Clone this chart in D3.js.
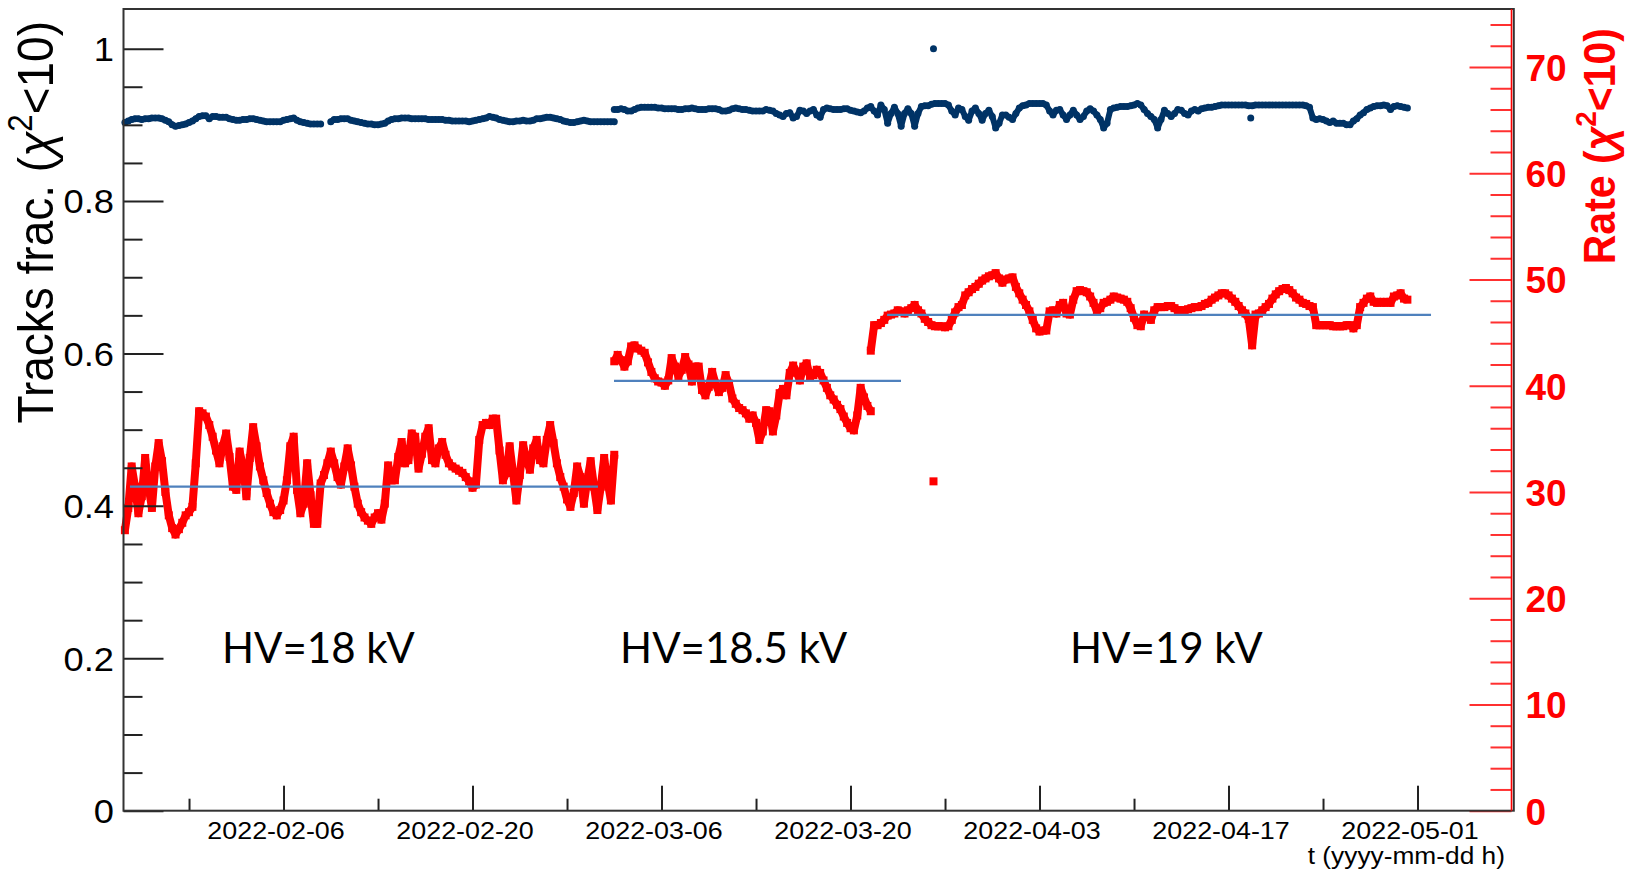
<!DOCTYPE html>
<html>
<head>
<meta charset="utf-8">
<script src="https://cdn.jsdelivr.net/npm/d3@7"></script>
<style>
  body { margin: 0; background: #fff; }
  svg { display: block; }
  text { font-family: "Liberation Sans", Arial, Helvetica, sans-serif; }
</style>
</head>
<body>
<svg id="chart" width="1632" height="872"></svg>
<script>
// time axis range and ticks
const xStart = "2022-01-25T03:30:00Z";
const xEnd = "2022-05-08T01:45:00Z";
const majorDates = ["2022-02-06", "2022-02-20", "2022-03-06", "2022-03-20", "2022-04-03", "2022-04-17", "2022-05-01"];
const minorDates = ["2022-01-30", "2022-02-13", "2022-02-27", "2022-03-13", "2022-03-27", "2022-04-10", "2022-04-24"];
const fracTicks = [0, 0.2, 0.4, 0.6, 0.8, 1];
const rateTicks = [0, 10, 20, 30, 40, 50, 60, 70];

// one value every 6 hours from the start of each HV period
const stepHours = 6;
const periodStart = ["2022-01-25T06:00:00Z", "2022-03-02T12:00:00Z", "2022-03-21T12:00:00Z"];
const hvNames = ["HV=18 kV", "HV=18.5 kV", "HV=19 kV"];

// rate (chi2<10), red, right axis
const rateHV18 = [
  26.4, 28.5, 32.4, 30.5, 28.0, 29.6, 33.2, 30.5, 28.5, 32.4,
  34.6, 32.9, 30.0, 27.8, 26.6, 26.0, 26.5, 27.1, 27.8, 28.1,
  28.6, 32.7, 37.6, 37.4, 37.1, 36.3, 35.2, 33.9, 32.7, 34.3,
  35.5, 33.3, 30.5, 30.2, 33.8, 32.4, 29.6, 33.2, 36.1, 34.3,
  32.4, 31.1, 29.9, 28.9, 28.1, 27.8, 28.3, 29.2, 31.1, 34.3,
  35.2, 30.2, 28.0, 28.9, 32.7, 29.7, 27.0, 27.0, 30.8, 31.6,
  32.7, 33.8, 32.7, 31.4, 30.7, 32.4, 34.1, 32.5, 30.5, 28.9,
  28.1, 27.6, 27.3, 27.0, 27.6, 28.0, 27.4, 28.9, 32.5, 31.1,
  31.1, 33.3, 34.7, 32.7, 33.0, 35.5, 35.2, 32.2, 33.6, 35.2,
  36.0, 33.0, 32.7, 34.1, 34.7, 33.5, 32.7, 32.4, 32.2, 32.0,
  31.8, 31.4, 31.0, 30.4, 30.7, 34.9, 36.3, 36.5, 36.3, 36.9,
  36.9, 33.9, 31.1, 31.8, 34.3, 31.8, 29.2, 31.6, 34.4, 33.0,
  32.1, 34.1, 34.9, 33.0, 32.7, 34.9, 36.3, 34.6, 32.7, 31.4,
  30.5, 29.3, 28.6, 29.9, 32.4, 31.4, 28.9, 31.1, 32.9, 30.5,
  28.3, 30.5, 33.2, 31.0, 29.2, 33.5
];
const rateHV185 = [
  42.3, 42.9, 42.4, 41.8, 42.3, 43.7, 43.8, 43.5, 43.3, 43.1,
  42.2, 41.3, 40.7, 40.4, 40.3, 40.0, 40.5, 42.6, 41.8, 40.9,
  41.5, 42.7, 42.0, 40.4, 41.8, 41.8, 39.6, 39.1, 39.9, 41.3,
  40.2, 39.4, 39.8, 41.0, 40.2, 38.8, 38.3, 37.9, 37.7, 37.4,
  36.9, 37.2, 36.5, 34.9, 35.7, 37.7, 37.6, 35.7, 37.2, 39.3,
  39.7, 39.1, 41.2, 41.9, 41.3, 40.5, 41.8, 42.1, 40.9, 41.0,
  41.5, 41.2, 40.5, 39.8, 39.1, 38.7, 38.2, 37.8, 37.1, 36.5,
  36.0, 35.8, 37.2, 39.8, 38.9, 38.1, 37.6
];
const rateHV19 = [
  43.3, 45.7, 45.7, 45.9, 46.2, 46.6, 46.7, 46.8, 47.1, 47.0,
  46.8, 47.1, 47.3, 47.6, 47.1, 46.8, 46.3, 46.0, 45.7, 45.6,
  45.6, 45.6, 45.5, 45.6, 46.2, 46.9, 47.4, 47.6, 48.5, 48.8,
  49.1, 49.3, 49.6, 49.9, 50.1, 50.3, 50.4, 50.6, 50.1, 49.7,
  50.0, 50.1, 50.2, 49.3, 48.7, 48.1, 47.6, 47.0, 46.2, 45.4,
  45.1, 45.2, 45.2, 47.0, 47.1, 46.8, 47.6, 47.8, 46.8, 46.7,
  48.1, 48.9, 49.0, 48.9, 48.8, 48.4, 47.8, 47.0, 47.3, 47.8,
  47.9, 48.1, 48.4, 48.3, 48.2, 48.1, 47.9, 47.3, 46.4, 45.7,
  45.6, 46.7, 46.5, 46.2, 47.1, 47.4, 47.4, 47.4, 47.5, 47.5,
  47.3, 47.1, 47.1, 47.1, 47.2, 47.3, 47.4, 47.4, 47.5, 47.7,
  47.8, 48.1, 48.3, 48.5, 48.7, 48.7, 48.5, 48.2, 47.9, 47.5,
  47.1, 46.8, 46.3, 43.8, 46.7, 46.8, 47.1, 47.4, 47.7, 48.2,
  48.6, 48.9, 49.1, 49.2, 49.0, 48.7, 48.3, 48.1, 47.8, 47.7,
  47.5, 47.4, 45.7, 45.7, 45.7, 45.7, 45.7, 45.6, 45.6, 45.6,
  45.6, 45.7, 45.7, 45.4, 45.7, 47.4, 47.8, 48.2, 48.4, 47.9,
  47.8, 47.9, 47.8, 47.9, 47.8, 48.4, 48.5, 48.7, 48.2, 48.1
];

// tracks fraction (chi2<10), dark blue, left axis (null = no data)
const fracHV18 = [
  .903, .905, .907, .908, .908, .907, .908, .908, .909, .909,
  .909, .908, .906, .904, .900, .898, .899, .900, .901, .903,
  .905, .908, .911, .912, .912, .908, .911, .911, .910, .910,
  .910, .908, .907, .906, .906, .907, .907, .908, .908, .907,
  .906, .905, .904, .904, .904, .904, .904, .906, .907, .908,
  .909, .906, .904, .903, .902, .901, .901, .901, .901, null,
  null, .904, .907, .907, .908, .908, .908, .906, .905, .904,
  .903, .902, .901, .901, .900, .900, .901, .902, .905, .907,
  .908, .908, .909, .909, .909, .908, .908, .908, .908, .908,
  .907, .907, .907, .907, .907, .906, .906, .905, .905, .905,
  .905, .905, .904, .905, .906, .907, .908, .909, .911, .910,
  .909, .907, .906, .905, .904, .904, .905, .905, .906, .905,
  .905, .906, .908, .908, .909, .910, .910, .909, .908, .907,
  .905, .904, .903, .903, .904, .905, .906, .905, .904, .904,
  .904, .904, .904, .904, .904, .904
];
const fracHV185 = [
  .920, .920, .921, .920, .918, .918, .920, .922, .923, .923,
  .923, .923, .923, .922, .922, .921, .921, .921, .921, .920,
  .920, .921, .921, .922, .921, .920, .920, .920, .921, .921,
  .921, .920, .918, .918, .919, .921, .922, .921, .920, .920,
  .919, .918, .918, .918, .918, .920, .919, .918, .915, .913,
  .911, .915, .916, .909, .911, .919, .918, .915, .918, .920,
  .913, .910, .920, .922, .921, .920, .920, .920, .921, .921,
  .919, .918, .917, .916, .918, .922, .924
];
const fracHV19 = [
  .923, .918, .913, .926, .920, .902, .915, .923, .915, .898,
  .915, .921, .915, .898, .915, .924, .925, .925, .927, .928,
  .928, .928, .928, .926, .918, .913, .922, .920, .911, .906,
  .918, .922, .915, .906, .915, .919, .911, .896, .902, .913,
  .913, .910, .907, .915, .922, .925, .926, .928, .928, .928,
  .928, .928, .926, .918, .913, .919, .920, .913, .907, .913,
  .919, .913, .907, .911, .918, .921, .918, .913, .907, .896,
  .902, .920, .922, .923, .924, .924, .924, .925, .926, .928,
  .926, .920, .915, .911, .907, .896, .907, .919, .915, .911,
  .915, .920, .919, .915, .913, .918, .920, .918, .921, .922,
  .923, .923, .924, .925, .926, .926, .926, .926, .926, .926,
  .926, .926, .925, .925, .926, .926, .926, .926, .926, .926,
  .926, .926, .926, .926, .926, .926, .926, .926, .926, .925,
  .923, .909, .907, .908, .907, .905, .903, .905, .902, .902,
  .902, .900, .900, .905, .908, .913, .916, .920, .922, .924,
  .925, .925, .926, .925, .920, .924, .925, .924, .923, .922
];

// isolated points
const oddTimes = ["2022-03-26T03:30:00Z", "2022-04-18T15:30:00Z"];
const oddFrac = [1.0, 0.909];
const oddRate = [31.0, null];

// mean rate per HV period (blue fit lines)
const meanFrom = ["2022-01-25T15:00:00Z", "2022-03-02T11:30:00Z", "2022-03-22T17:00:00Z"];
const meanTo = ["2022-03-01T07:00:00Z", "2022-03-23T17:45:00Z", "2022-05-02T00:00:00Z"];
const meanRate = [30.5, 40.45, 46.67];

// where the HV text sits (time, rate)
const hvLabelTime = ["2022-02-01T10:30:00Z", "2022-03-02T22:20:00Z", "2022-04-05T06:15:00Z"];
const hvLabelRate = 13.9;

const frame = { left: 123.5, right: 1513, top: 9, bottom: 810.7 };
const svg = d3.select("#chart");

const x = d3.scaleUtc()
  .domain([new Date(xStart), new Date(xEnd)])
  .range([frame.left, frame.right]);
const yL = d3.scaleLinear().domain([0, 1.052]).range([frame.bottom, frame.top]);
const yR = d3.scaleLinear().domain([0, 75.46]).range([frame.bottom, frame.top]);

function toPoints(start, values) {
  const t0 = +new Date(start);
  return values.map((v, i) => ({ t: new Date(t0 + i * stepHours * 3600e3), v: v }));
}

const fracRuns = [toPoints(periodStart[0], fracHV18), toPoints(periodStart[1], fracHV185), toPoints(periodStart[2], fracHV19)];
const rateRuns = [toPoints(periodStart[0], rateHV18), toPoints(periodStart[1], rateHV185), toPoints(periodStart[2], rateHV19)];
const oddPts = oddTimes.map((t, i) => ({ t: new Date(t), f: oddFrac[i], r: oddRate[i] }));

const fracPts = [].concat(...fracRuns).filter(d => d.v != null)
  .concat(oddPts.filter(d => d.f != null).map(d => ({ t: d.t, v: d.f })));
const ratePts = [].concat(...rateRuns).filter(d => d.v != null)
  .concat(oddPts.filter(d => d.r != null).map(d => ({ t: d.t, v: d.r })));

// dense hourly scatter looks like a band: join neighbours under the markers
const fracLine = d3.line().defined(d => d.v != null).x(d => x(d.t)).y(d => yL(d.v));
const rateLine = d3.line().defined(d => d.v != null).x(d => x(d.t)).y(d => yR(d.v));

svg.append("g").selectAll("path")
  .data(fracRuns)
  .enter().append("path")
  .attr("d", fracLine)
  .attr("fill", "none")
  .attr("stroke", "#003366")
  .attr("stroke-width", 6)
  .attr("stroke-linejoin", "round");

svg.append("g").selectAll("circle")
  .data(fracPts)
  .enter().append("circle")
  .attr("cx", d => x(d.t))
  .attr("cy", d => yL(d.v))
  .attr("r", 3.5)
  .attr("fill", "#003366");

svg.append("g").selectAll("path")
  .data(rateRuns)
  .enter().append("path")
  .attr("d", rateLine)
  .attr("fill", "none")
  .attr("stroke", "#ff0000")
  .attr("stroke-width", 8)
  .attr("stroke-linejoin", "round");

const sq = 8;
svg.append("g").selectAll("rect")
  .data(ratePts)
  .enter().append("rect")
  .attr("x", d => x(d.t) - sq / 2)
  .attr("y", d => yR(d.v) - sq / 2)
  .attr("width", sq)
  .attr("height", sq)
  .attr("fill", "#ff0000");

// mean lines
svg.append("g").selectAll("line")
  .data(meanRate)
  .enter().append("line")
  .attr("x1", (d, i) => x(new Date(meanFrom[i])))
  .attr("x2", (d, i) => x(new Date(meanTo[i])))
  .attr("y1", d => yR(d))
  .attr("y2", d => yR(d))
  .attr("stroke", "#4f81bd")
  .attr("stroke-width", 2.2);

// axes
const fmt = d3.utcFormat("%Y-%m-%d");
const gx = svg.append("g").attr("transform", `translate(0,${frame.bottom})`);
gx.call(d3.axisBottom(x).tickValues(majorDates.map(d => new Date(d + "T00:00:00Z")))
    .tickSizeInner(-25).tickSizeOuter(0).tickFormat(fmt))
  .call(g => g.select(".domain").remove());
gx.selectAll("text")
  .attr("y", 0).attr("dy", 0)
  .attr("transform", "translate(-8,28.3) scale(1.12,1)")
  .attr("font-size", 24).attr("fill", "#000")
  .style("font-family", "'Liberation Sans', Arial, sans-serif");
const gxm = svg.append("g").attr("transform", `translate(0,${frame.bottom})`);
gxm.call(d3.axisBottom(x).tickValues(minorDates.map(d => new Date(d + "T00:00:00Z")))
    .tickSizeInner(-12).tickSizeOuter(0).tickFormat(""))
  .call(g => g.select(".domain").remove());

const gl = svg.append("g").attr("transform", `translate(${frame.left},0)`);
gl.call(d3.axisLeft(yL).tickValues(fracTicks).tickSizeInner(-40).tickSizeOuter(0)
    .tickFormat(d3.format("~g")))
  .call(g => g.select(".domain").remove());
gl.selectAll("text")
  .attr("x", 0).attr("dy", "0.36em")
  .attr("transform", "translate(-9.5,0) scale(1.1,1)")
  .attr("font-size", 33).attr("fill", "#000")
  .style("font-family", "'Liberation Sans', Arial, sans-serif");
const glm = svg.append("g").attr("transform", `translate(${frame.left},0)`);
glm.call(d3.axisLeft(yL).tickValues(d3.range(1, 21).map(k => k * 0.05).filter((v, i) => (i + 1) % 4 !== 0))
    .tickSizeInner(-19).tickSizeOuter(0).tickFormat(""))
  .call(g => g.select(".domain").remove());

const gr = svg.append("g").attr("transform", `translate(${frame.right - 1.5},0)`);
gr.call(d3.axisRight(yR).tickValues(rateTicks).tickSizeInner(-42).tickSizeOuter(0).tickPadding(14))
  .call(g => g.select(".domain").remove());
gr.selectAll("text")
  .attr("dy", "0.36em")
  .attr("font-size", 37).attr("font-weight", "bold").attr("fill", "#ff0000")
  .style("font-family", "'Liberation Sans', Arial, sans-serif");
const grm = svg.append("g").attr("transform", `translate(${frame.right - 1.5},0)`);
grm.call(d3.axisRight(yR).tickValues(d3.range(2, 75, 2).filter(v => v % 10 !== 0))
    .tickSizeInner(-21).tickSizeOuter(0).tickFormat(""))
  .call(g => g.select(".domain").remove());

svg.selectAll(".tick line").attr("stroke-width", 2);
[gx, gxm, gl, glm].forEach(g => g.selectAll(".tick line").attr("stroke", "#222"));
[gr, grm].forEach(g => g.selectAll(".tick line").attr("stroke", "#ff3030"));

// frame
svg.append("rect")
  .attr("x", frame.left).attr("y", frame.top)
  .attr("width", frame.right - frame.left + 0.8).attr("height", frame.bottom - frame.top)
  .attr("fill", "none").attr("stroke", "#333").attr("stroke-width", 2);
svg.append("line")
  .attr("x1", frame.right - 1.5).attr("x2", frame.right - 1.5)
  .attr("y1", frame.top).attr("y2", frame.bottom)
  .attr("stroke", "#ff0000").attr("stroke-width", 1.6);

// axis titles
function chiTitle(g, before, size) {
  g.append("tspan").text(before);
  g.append("tspan").attr("font-style", "italic").text("χ");
  g.append("tspan").attr("font-size", size * 0.68).attr("dy", -size * 0.42).text("2");
  g.append("tspan").attr("dy", size * 0.42).text("<10)");
}
const lt = svg.append("text")
  .attr("transform", "translate(53,21) scale(1.1,1) rotate(-90)")
  .attr("text-anchor", "end")
  .attr("font-size", 46).attr("fill", "#000");
chiTitle(lt, "Tracks frac. (", 46);

const rt = svg.append("text")
  .attr("transform", "translate(1615,28) scale(1.08,1) rotate(-90)")
  .attr("text-anchor", "end")
  .attr("font-size", 41).attr("font-weight", "bold").attr("fill", "#ff0000");
chiTitle(rt, "Rate (", 41);

svg.append("text")
  .attr("transform", "translate(1505,864) scale(1.12,1)")
  .attr("text-anchor", "end")
  .attr("font-size", 23.5).attr("fill", "#000")
  .text("t (yyyy-mm-dd h)");

// HV annotations
svg.append("g").selectAll("text")
  .data(hvNames)
  .enter().append("text")
  .attr("x", (d, i) => x(new Date(hvLabelTime[i])))
  .attr("y", yR(hvLabelRate))
  .attr("font-size", 42)
  .style("font-family", "Lato, 'Open Sans', sans-serif")
  .attr("fill", "#000")
  .text(d => d);
</script>
</body>
</html>
